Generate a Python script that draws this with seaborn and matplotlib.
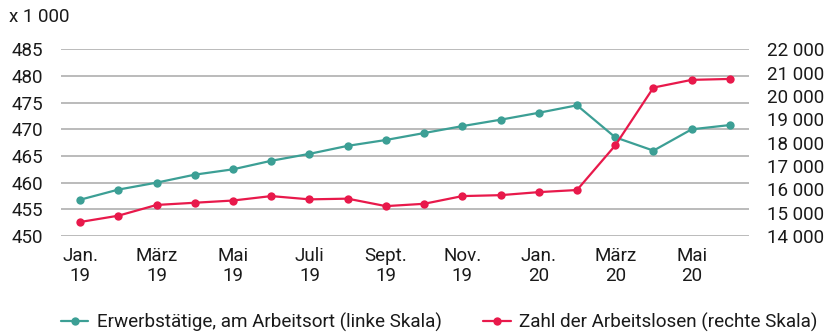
import matplotlib
matplotlib.use("Agg")
import matplotlib.pyplot as plt
from matplotlib.ticker import FuncFormatter, FixedLocator
import numpy as np
import pandas as pd
import seaborn as sns

months = ["Jan. 19", "Feb. 19", "März 19", "Apr. 19", "Mai 19", "Juni 19",
          "Juli 19", "Aug. 19", "Sept. 19", "Okt. 19", "Nov. 19", "Dez. 19",
          "Jan. 20", "Feb. 20", "März 20", "Apr. 20", "Mai 20", "Juni 20"]
tick_labels = ["Jan.\n19", "März\n19", "Mai\n19", "Juli\n19", "Sept.\n19",
               "Nov.\n19", "Jan.\n20", "März\n20", "Mai\n20"]

# Erwerbstätige am Arbeitsort, in 1 000
erwerbstaetige = [456.8, 458.7, 460.0, 461.5, 462.5, 464.1, 465.4, 466.9, 468.0,
                  469.3, 470.6, 471.8, 473.1, 474.5, 468.5, 466.0, 470.0, 470.8]
# Zahl der Arbeitslosen
arbeitslose = [14600, 14870, 15330, 15425, 15520, 15710, 15570, 15600, 15280,
               15380, 15710, 15750, 15880, 15970, 17880, 20360, 20690, 20730]

label_left = "Erwerbstätige, am Arbeitsort (linke Skala)"
label_right = "Zahl der Arbeitslosen (rechte Skala)"

GREEN = "#3c9f95"
RED = "#e8194b"
GRID = "#a8a8a8"
TXT = "#1a1a1a"

df = pd.DataFrame({"pos": np.arange(len(months)), "monat": months,
                   "erwerb": erwerbstaetige, "arbeitslos": arbeitslose})

sns.set_theme(style="white")
plt.rcParams["font.family"] = ["Roboto", "DejaVu Sans"]

fig = plt.figure(figsize=(8.31, 3.34), dpi=100)
ax = fig.add_axes([61 / 831, 1 - 236 / 334, (749 - 61) / 831, (236 - 49.3) / 334])
ax2 = ax.twinx()

sns.lineplot(data=df, x="pos", y="erwerb", ax=ax, color=GREEN, lw=1.6,
             marker="o", markersize=6, markeredgewidth=0, label=label_left,
             legend=False)
sns.lineplot(data=df, x="pos", y="arbeitslos", ax=ax2, color=RED, lw=1.6,
             marker="o", markersize=6, markeredgewidth=0, label=label_right,
             legend=False)

ax.set_xlim(-0.5, len(months) - 0.5)
ax.set_ylim(450, 485)
ax2.set_ylim(14000, 22000)
ax.yaxis.set_major_locator(FixedLocator(np.arange(450, 486, 5)))
ax2.yaxis.set_major_locator(FixedLocator(np.arange(14000, 22001, 1000)))
ax2.yaxis.set_major_formatter(FuncFormatter(lambda v, p: f"{int(v):,}".replace(",", " ")))

ax.set_xticks(df["pos"][::2])
ax.set_xticklabels(tick_labels, fontsize=14, color=TXT, linespacing=1.15)
ax.grid(axis="y", color=GRID, lw=1.1)
ax.grid(axis="x", visible=False)
ax.set_axisbelow(True)

for a in (ax, ax2):
    for s in a.spines.values():
        s.set_visible(False)
    a.set_xlabel("")
    a.set_ylabel("")
    a.tick_params(length=0, labelsize=13.5, labelcolor=TXT)
ax.tick_params(axis="y", pad=13)
ax2.tick_params(axis="y", pad=13)
ax.tick_params(axis="x", pad=8)

fig.text(9 / 831, 1 - 17 / 334, "x 1 000", fontsize=13.5, color=TXT,
         va="center", ha="left")

handles = ax.get_lines()[:1] + ax2.get_lines()[:1]
fig.legend(handles, [label_left, label_right], loc="center left",
           bbox_to_anchor=(61 / 831, 1 - 322 / 334), ncol=2, frameon=False,
           borderpad=0, borderaxespad=0, handlelength=1.45, handletextpad=0.45,
           columnspacing=2.2, prop={"size": 13.6}, labelcolor=TXT)

fig.savefig("out.png", dpi=100)
